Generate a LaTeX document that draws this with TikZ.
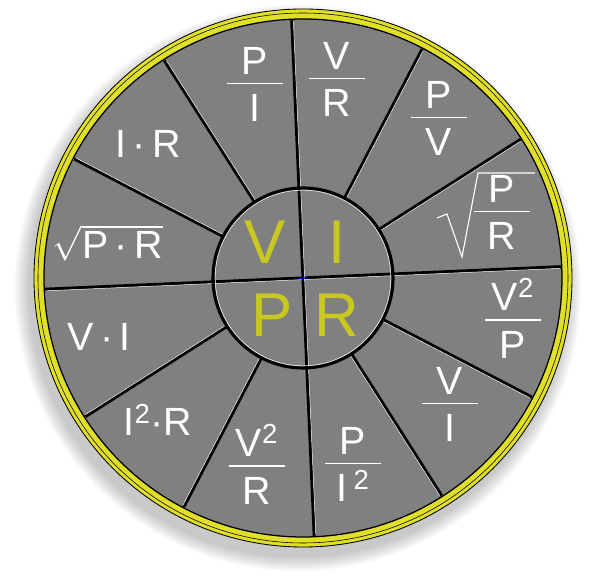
\documentclass[tikz,border=0pt]{standalone}
\usepackage{fontspec}
\setmainfont{Liberation Sans}
\usepackage{amsmath}
\usetikzlibrary{calc}
\setlength{\arrayrulewidth}{1.2pt}
\definecolor{discgray}{RGB}{128,128,128}
\definecolor{ringyellow}{RGB}{224,224,40}
\definecolor{letteryellow}{RGB}{200,200,30}

\DeclareRobustCommand{\frc}[2]{\raisebox{0pt}[\height][\dimexpr\depth-8pt]{\begin{tabular}{@{}c@{}}\makebox[1.4cm]{#1}\\[-3pt]\hline\rule{0pt}{0.95em}#2\end{tabular}}}

\begin{document}
\begin{tikzpicture}
			[x = 0.025cm, y = 0.025cm,
			lbl/.style = {text = white, inner sep = 0pt, font = \fontsize{28}{30}\selectfont},
			big/.style = {text = letteryellow, inner sep = 0pt, font = \fontsize{44}{48}\selectfont},
			divider/.style = {line width = 2.2pt, black},
			shine/.style = {line width = 0.35pt, white}]
			\useasboundingbox (-303,-298) rectangle (297,278);
			% soft shadow
			\foreach \i in {1,...,10}
				\fill[black, opacity = 0.025] (-5,-10) circle (268 + 1.5*\i);
			% yellow ring
			\fill[ringyellow, draw = black, line width = 0.6pt] (0,0) circle (269);
			\draw[black, line width = 0.4pt] (0,0) circle (265);
			\fill[discgray, draw = black, line width = 0.9pt] (0,0) circle (259);
			% dividers
			\begin{scope}[rotate = 2.5]
				\foreach \a in {30, 60, 120, 150, 210, 240, 300, 330} {
					\draw[divider, rotate = \a] (90,0) -- (258,0);
					\draw[shine, rotate = \a] (91,-1.6) -- (257,-1.6);
				}
				\foreach \a in {0, 90} {
					\draw[divider, rotate = \a] (-258,0) -- (258,0);
					\draw[shine, rotate = \a] (-257,-1.6) -- (257,-1.6);
				}
				\draw[divider] (0,0) circle (90);
				\draw[shine] (0,0) circle (87.8);
				\draw[blue, line width = 0.8pt] (-5,0) -- (5,0);
			\end{scope}
			% formulas
			\node[lbl] (pi) at (-48,194) {\frc{P}{I}};
			\node[lbl] (vr) at (34,199) {\frc{V}{R}};
			\node[lbl] (pv) at (136,160) {\frc{P}{V}};
			\node[lbl] (sqpr) at (199,66) {\frc{P}{R}};
			\draw[white, line width = 0.8pt] ($(sqpr) + (-65,-6)$) -- ++(10,4) -- ++(15,-43) -- ++(16,84) -- ++(57,0);
			\node[lbl] (vvp) at (210,-41) {\frc{V\textsuperscript{2}}{P}};
			\node[lbl] (vi) at (147,-126) {\frc{V}{I}};
			\node[lbl] (pii) at (50,-186) {\frc{P}{I\,\textsuperscript{2}}};
			\node[lbl] (vvr) at (-46,-187) {\frc{V\textsuperscript{2}}{R}};
			\node[lbl] (iir) at (-145,-142) {I\textsuperscript{2}·R};
			\node[lbl] (vtimesi) at (-204,-59) {V\,·\,I};
			\node[lbl] (sqptr) at (-195,35) {$\sqrt{\text{P\,·\,R}}$};
			\node[lbl] (ir) at (-155,134) {I\,·\,R};
			% centre letters
			\node[big] (v) at (-38,36) {V};
			\node[big] (i) at (34,36) {I};
			\node[big] (p) at (-31,-37) {P};
			\node[big] (r) at (34,-37) {R};
		\end{tikzpicture}
\end{document}
